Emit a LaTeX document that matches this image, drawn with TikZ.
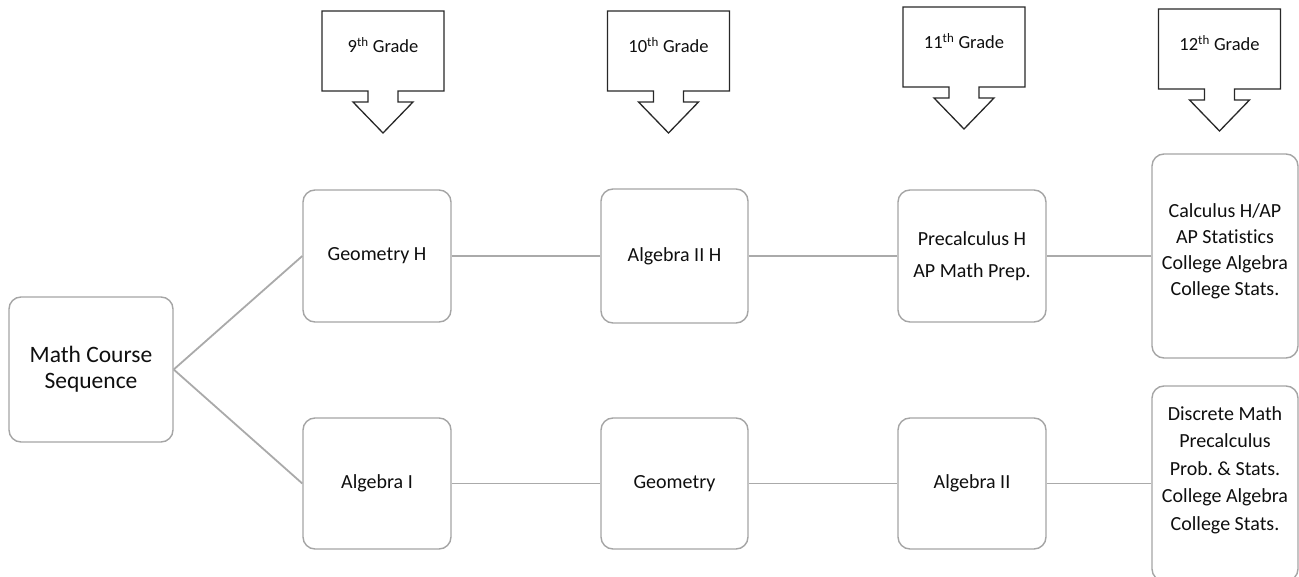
\documentclass[tikz,border=0pt]{standalone}
\usepackage{fontspec}
\setmainfont{Carlito}[Ligatures=NoCommon]
\definecolor{boxgray}{RGB}{165,165,165}
\definecolor{linegray}{RGB}{170,170,170}
\definecolor{txtc}{RGB}{15,15,15}
\definecolor{calloutc}{RGB}{40,40,40}
\tikzset{
  coursebox/.style={draw=boxgray, line width=1.4pt, rounded corners=12pt, fill=white,
    text=txtc, align=center, inner sep=2pt, font=\fontsize{20}{32}\selectfont},
  conn/.style={draw=linegray, line width=1.8pt},
  txtnode/.style={text=txtc, align=center, inner sep=0pt},
  calloutline/.style={draw=calloutc, line width=1.3pt, line join=miter, fill=white},
  gradecallout/.pic={
    \path[calloutline] (-61,0) -- (61,0) -- (61,80) -- (15,80) -- (15,91) -- (30,91)
      -- (0,122) -- (-30,91) -- (-15,91) -- (-15,80) -- (-61,80) -- cycle;
  },
  gradetext/.style={text=txtc, inner sep=0pt, font=\fontsize{18.5}{22}\selectfont}
}
\begin{document}
\begin{tikzpicture}[x=1pt,y=-1pt]
\useasboundingbox (0,0) rectangle (1299,577);
\clip (0,0) rectangle (1299,577);

% grade callouts
\pic at (383,11) {gradecallout};
\pic at (668.5,11) {gradecallout};
\pic at (964,7) {gradecallout};
\pic at (1219.5,9) {gradecallout};
\node[gradetext] (g9) at (383,45) {9\textsuperscript{th} Grade};
\node[gradetext] (g10) at (668.5,45) {10\textsuperscript{th} Grade};
\node[gradetext] (g11) at (964,41) {11\textsuperscript{th} Grade};
\node[gradetext] (g12) at (1219.5,43) {12\textsuperscript{th} Grade};

% start node
\node[coursebox, minimum width=164pt, minimum height=145pt,
  font=\fontsize{23.5}{26}\selectfont] (mcs) at (91,369.5) {Math Course\\Sequence};

% top row
\node[coursebox, minimum width=148pt, minimum height=132pt] (geoH) at (377,256) {Geometry H};
\node[coursebox, minimum width=147pt, minimum height=134pt] (alg2H) at (674.5,256) {Algebra II H};
\node[coursebox, minimum width=148pt, minimum height=132pt] (precH) at (972,256) {Precalculus H\\AP Math Prep.};
\node[coursebox, minimum width=146pt, minimum height=204pt] (c12a) at (1225,256) {};
\node[txtnode, font=\fontsize{20}{26}\selectfont] (c12atext) at (1225,251)
  {Calculus H/AP\\AP Statistics\\College Algebra\\College Stats.};

% bottom row
\node[coursebox, minimum width=148pt, minimum height=131pt] (alg1) at (377,483.5) {Algebra I};
\node[coursebox, minimum width=147pt, minimum height=131pt] (geo) at (674.5,483.5) {Geometry};
\node[coursebox, minimum width=148pt, minimum height=131pt] (alg2) at (972,483.5) {Algebra II};
\node[coursebox, minimum width=146pt, minimum height=195pt] (c12b) at (1225,483.5) {};
\node[txtnode, font=\fontsize{20}{27.5}\selectfont] (c12btext) at (1225,470)
  {Discrete Math\\Precalculus\\Prob.\ \& Stats.\\College Algebra\\College Stats.};

% connectors
\draw[conn] (mcs.east) -- (geoH.west);
\draw[conn] (mcs.east) -- (alg1.west);
\draw[conn] (geoH.east) -- (alg2H.west);
\draw[conn] (alg2H.east) -- (precH.west);
\draw[conn] (precH.east) -- (c12a.west);
\draw[conn] (alg1.east) -- (geo.west);
\draw[conn] (geo.east) -- (alg2.west);
\draw[conn] (alg2.east) -- (c12b.west);
\end{tikzpicture}
\end{document}
